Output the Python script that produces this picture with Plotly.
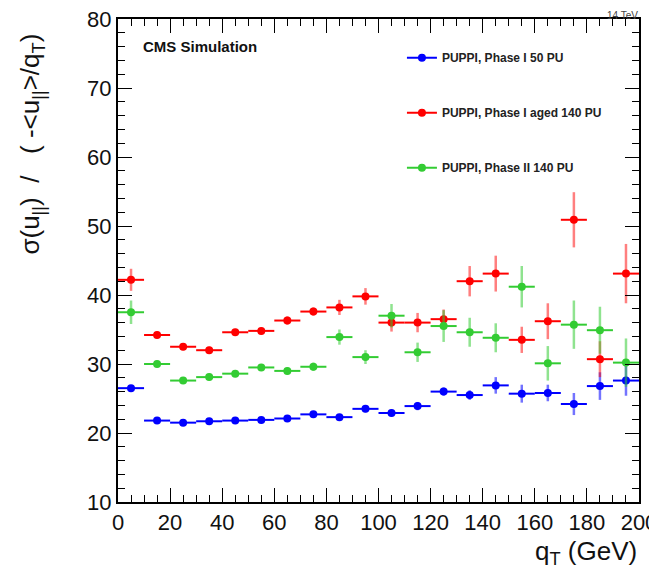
import plotly.graph_objects as go

# bin centres (GeV) and half-widths
qt = [5, 15, 25, 35, 45, 55, 65, 75, 85, 95, 105, 115, 125, 135, 145, 155, 165, 175, 185, 195]
qt_err = [5, 5, 5, 5, 5, 5, 5, 5, 5, 5, 5, 5, 5, 5, 5, 5, 5, 5, 5, 5]

phase1_50pu = [26.5, 21.8, 21.5, 21.7, 21.8, 21.9, 22.1, 22.7, 22.3, 23.5,
               22.9, 23.9, 26.0, 25.5, 26.9, 25.7, 25.8, 24.2, 26.8, 27.6]
phase1_50pu_err = [0.4, 0.3, 0.3, 0.3, 0.3, 0.3, 0.3, 0.4, 0.4, 0.5,
                   0.5, 0.6, 0.6, 0.7, 1.2, 1.3, 1.2, 1.6, 2.0, 2.2]

phase1_aged_140pu = [42.2, 34.2, 32.5, 32.0, 34.6, 34.8, 36.3, 37.6, 38.2, 39.8,
                     36.0, 36.0, 36.5, 42.0, 43.1, 33.5, 36.2, 50.9, 30.7, 43.1]
phase1_aged_140pu_err = [1.6, 0.5, 0.5, 0.5, 0.5, 0.5, 0.6, 0.6, 1.1, 1.2,
                         1.3, 1.4, 1.4, 2.2, 2.6, 1.9, 2.6, 4.0, 2.6, 4.3]

phase2_140pu = [37.5, 30.0, 27.6, 28.1, 28.6, 29.5, 29.0, 29.6, 33.9, 31.0,
                37.0, 31.7, 35.5, 34.6, 33.8, 41.2, 30.1, 35.7, 34.9, 30.2]
phase2_140pu_err = [1.7, 0.5, 0.5, 0.5, 0.5, 0.5, 0.5, 0.6, 1.1, 1.0,
                    1.7, 1.4, 2.3, 2.1, 2.1, 3.0, 2.5, 3.5, 3.4, 3.5]

series = [
    ("PUPPI, Phase I 50 PU", phase1_50pu, phase1_50pu_err, "#0000ff", "rgba(0,0,255,0.55)"),
    ("PUPPI, Phase I aged 140 PU", phase1_aged_140pu, phase1_aged_140pu_err, "#ff0000", "rgba(255,0,0,0.5)"),
    ("PUPPI, Phase II 140 PU", phase2_140pu, phase2_140pu_err, "#33cc33", "rgba(51,204,51,0.55)"),
]

FONT = "Liberation Sans, Arial, sans-serif"

fig = go.Figure()
for i, (name, vals, errs, col, ecol) in enumerate(series):
    fig.add_trace(go.Scatter(
        x=qt, y=vals, mode="markers", showlegend=False,
        marker=dict(color=col, size=8, symbol="circle"),
        error_x=dict(type="data", array=qt_err, color=col, thickness=2, width=0),
        error_y=dict(type="data", array=errs, color=ecol, thickness=2.5, width=0),
    ))
    # legend entry
    fig.add_trace(go.Scatter(
        x=[None], y=[None], mode="lines+markers", name="<b>" + name + "</b>",
        legendgroup=str(i),
        line=dict(color=col, width=2), marker=dict(color=col, size=8),
    ))

axis_common = dict(
    showline=True, linewidth=2, linecolor="black", mirror="allticks",
    ticks="inside", ticklen=14, tickwidth=1, tickcolor="black",
    showgrid=False, zeroline=False, automargin=False,
    ticklabeloverflow="allow",
    tickfont=dict(family=FONT, size=22, color="#111"),
)

fig.update_xaxes(range=[0, 200], dtick=20, tick0=0,
                 minor=dict(ticks="inside", ticklen=7, dtick=5, tickcolor="black", tickwidth=1, showgrid=False),
                 **axis_common)
fig.update_yaxes(range=[10, 80], dtick=10, tick0=0,
                 minor=dict(ticks="inside", ticklen=7, dtick=2, tickcolor="black", tickwidth=1, showgrid=False),
                 **axis_common)

NB = "\u00a0"
title_font = dict(family=FONT, size=26, color="#111")
fig.add_annotation(
    text="σ(u<sub>||</sub>)" + NB * 2 + "/" + NB * 3 + "(" + NB + "-&lt;u<sub>||</sub>&gt;/q<sub>T</sub>)",
    xref="paper", yref="paper", x=-0.165, y=0.973, xanchor="center", yanchor="top",
    textangle=-90, showarrow=False, font=title_font,
)
fig.add_annotation(
    text="q<sub>T</sub> (GeV)",
    xref="paper", yref="paper", x=1.0, y=-0.105, xanchor="right", yanchor="middle",
    showarrow=False, font=title_font,
)
fig.add_annotation(
    text="<b>CMS Simulation</b>",
    xref="paper", yref="paper", x=0.044, y=0.943, xanchor="left", yanchor="middle",
    showarrow=False, font=dict(family=FONT, size=15, color="#111"),
)
fig.add_annotation(
    text="14 TeV",
    xref="paper", yref="paper", x=1.0, y=1.0228, xanchor="right", yanchor="top",
    yshift=-1, borderpad=0, showarrow=False, font=dict(family=FONT, size=10, color="#444"),
)

# the page adds an 8 px body margin, so the margins are shifted to compensate
fig.update_layout(
    width=657, height=573,
    margin=dict(l=110, r=26, t=11, b=79),
    paper_bgcolor="white", plot_bgcolor="white",
    legend=dict(
        x=0.545, y=0.95, xanchor="left", yanchor="top",
        bgcolor="rgba(0,0,0,0)", tracegroupgap=36,
        font=dict(family=FONT, size=12, color="#222"),
    ),
)

fig.write_html("out.html")
